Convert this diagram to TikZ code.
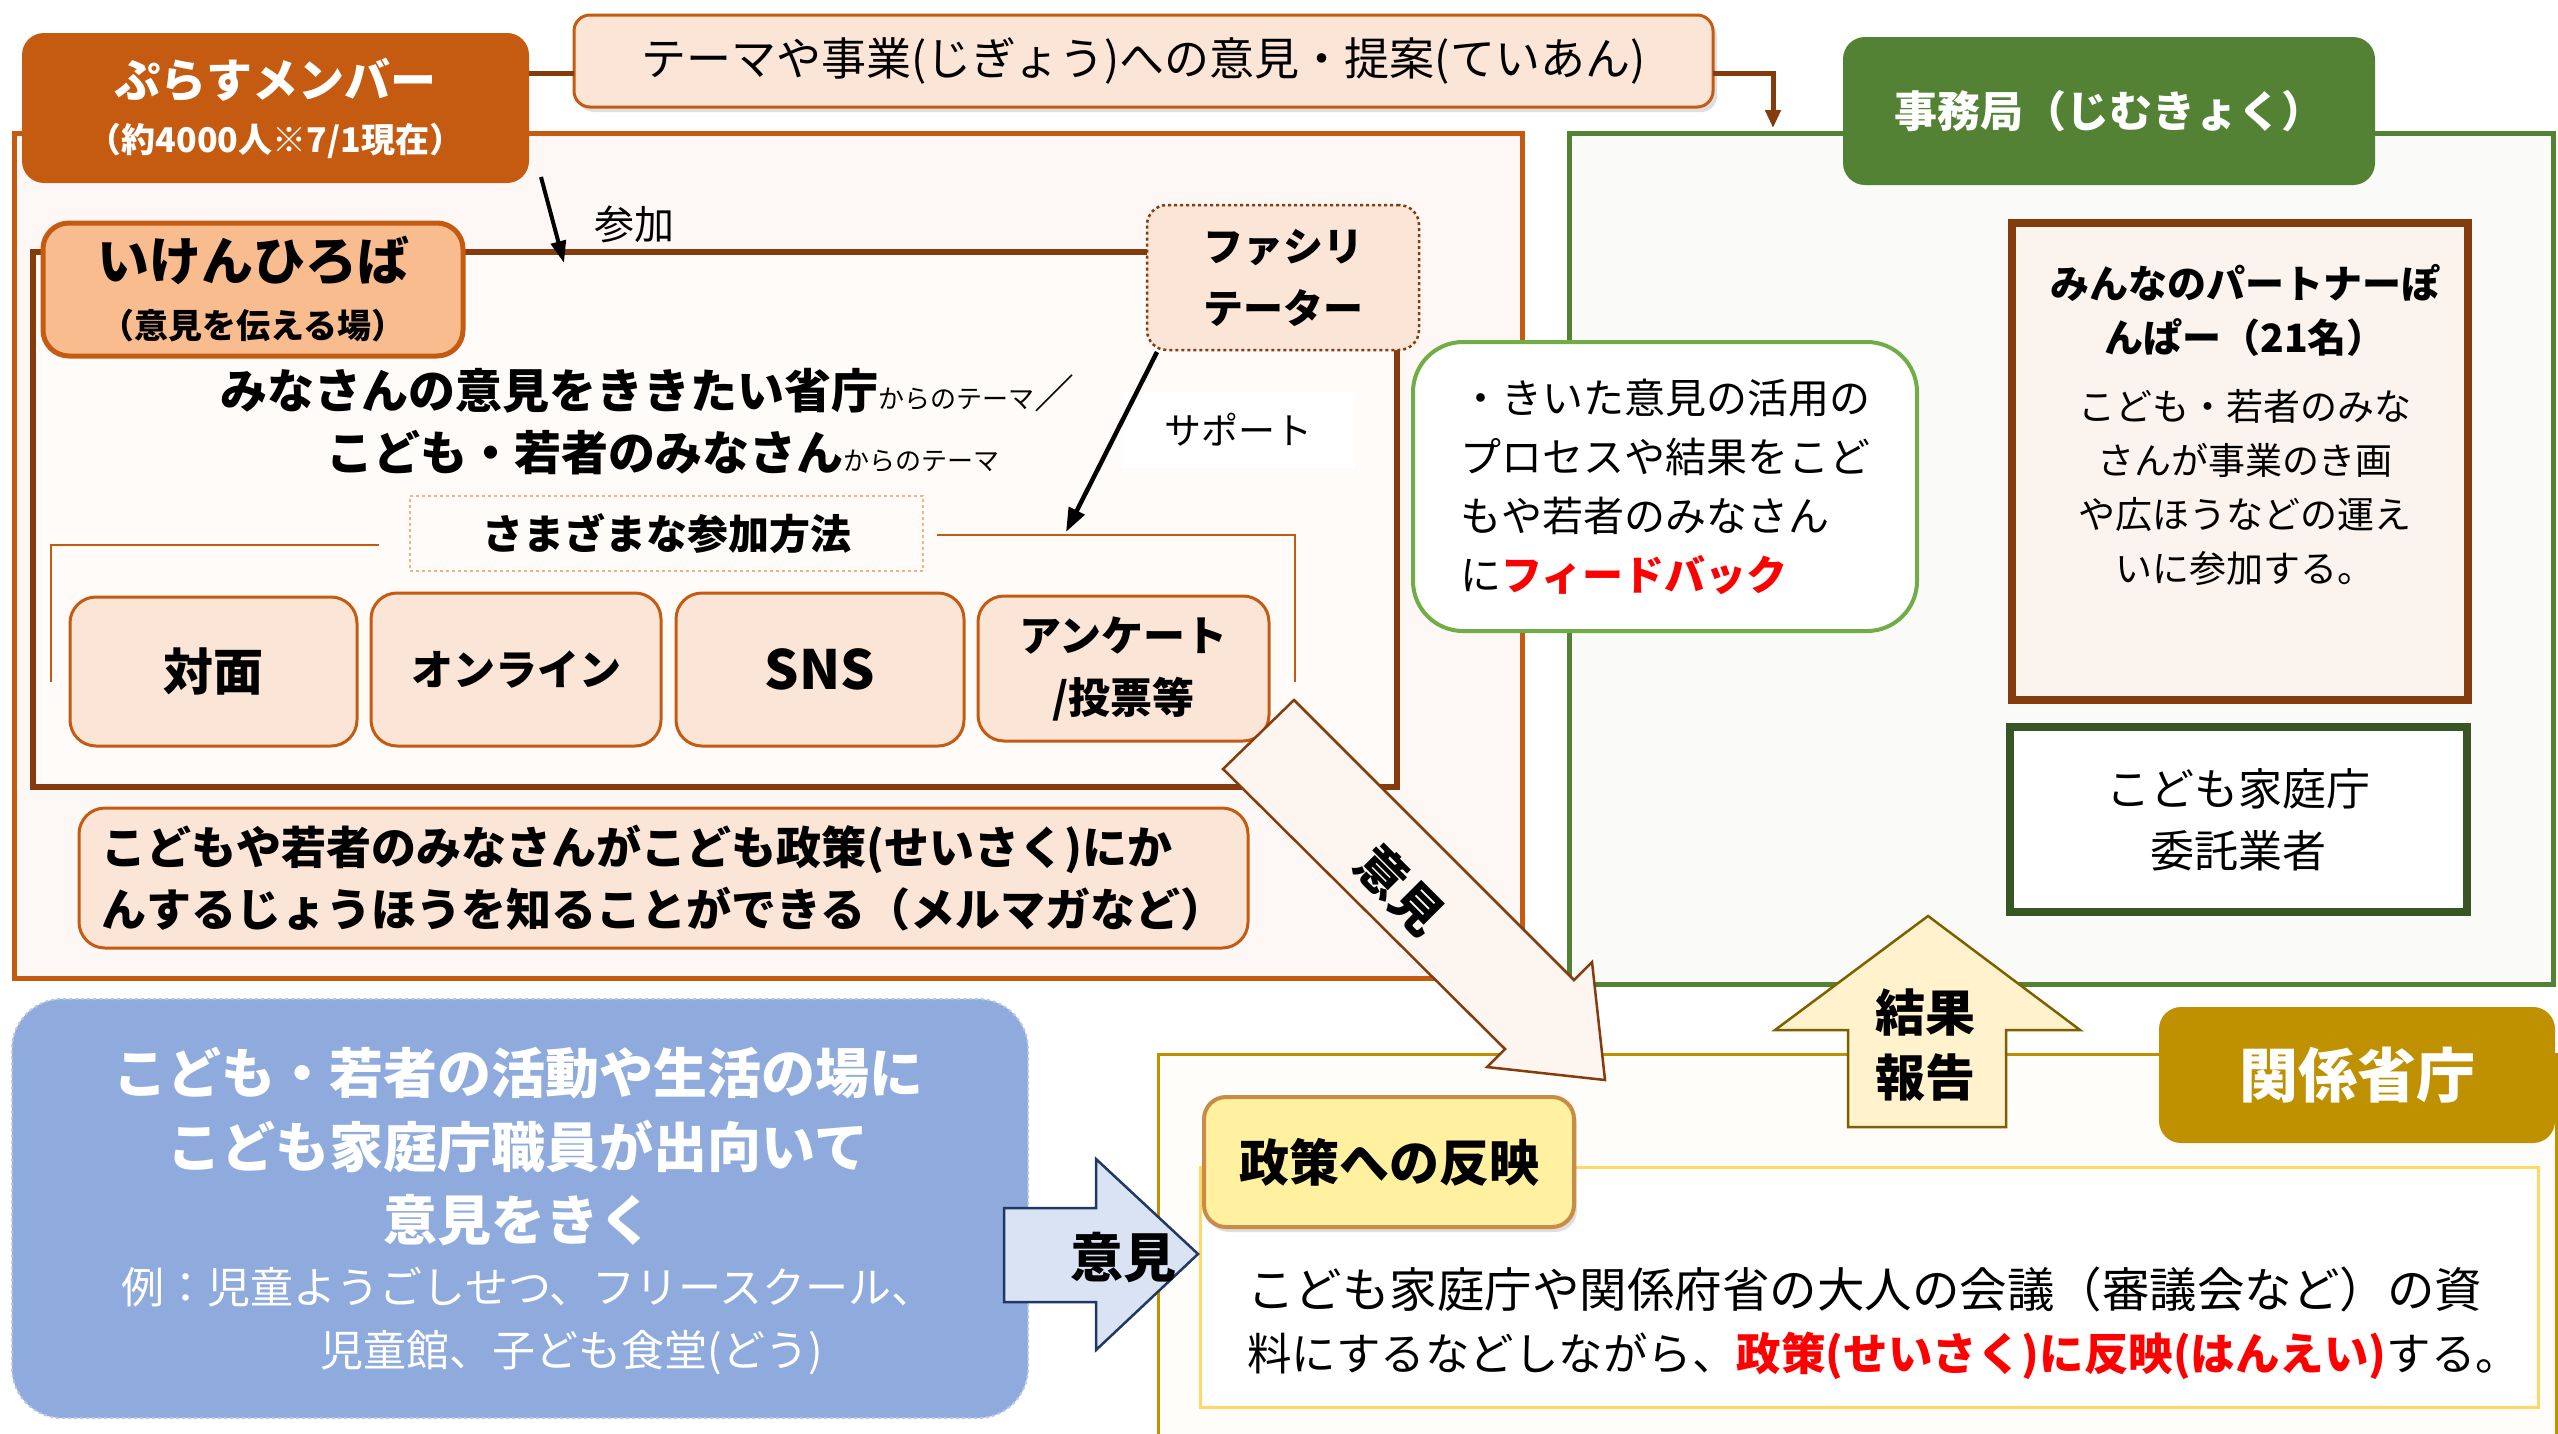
\documentclass[tikz,border=0pt]{standalone}
\usepackage{fontspec}
\setmainfont{Noto Sans CJK JP}
\usetikzlibrary{arrows.meta,shadows,calc}
\newcommand\fz[2]{\fontsize{#1}{#2}\selectfont}
\definecolor{orgD}{HTML}{C55A11}
\definecolor{brn}{HTML}{843C0C}
\definecolor{peach}{HTML}{FBE5D6}
\definecolor{peachM}{HTML}{F9BC8F}
\definecolor{dashO}{HTML}{F4B183}
\definecolor{grn}{HTML}{548235}
\definecolor{grnL}{HTML}{70AD47}
\definecolor{grnD}{HTML}{375623}
\definecolor{gold}{HTML}{BF9000}
\definecolor{goldL}{HTML}{FFD966}
\definecolor{cream}{HTML}{FFF2CC}
\definecolor{olive}{HTML}{7F6000}
\definecolor{blueB}{HTML}{8FAADC}
\definecolor{blueE}{HTML}{B4C7E7}
\definecolor{blueL}{HTML}{DAE3F3}
\definecolor{navy}{HTML}{203864}
\definecolor{outerF}{HTML}{FDF8F5}
\definecolor{innerF}{HTML}{FFFBF9}
\definecolor{greenF}{HTML}{FAFAF8}
\definecolor{yellF}{HTML}{FFFDF9}
\definecolor{partF}{HTML}{FBF3EE}
\definecolor{seiF}{HTML}{FFF1A0}
\definecolor{seiD}{HTML}{C98B45}
\definecolor{arrF}{HTML}{FDF5F0}
\definecolor{redT}{HTML}{FF0000}
\begin{document}
\begin{tikzpicture}[x=1pt,y=-1pt,
  every node/.style={inner sep=0pt,outer sep=0pt},
  framebox/.style={draw=#1,line width=5pt},
  method/.style={draw=orgD,line width=3pt,fill=peach,rounded corners=26pt,align=center},
  whitebox/.style={fill=#1,rounded corners=22pt,text=white,align=center},
  conn/.style={line width=4.5pt,-{Triangle[length=24pt,width=17pt]}},
  txt/.style={align=center}]
\useasboundingbox (0,0) rectangle (2558,1433);
\clip (0,0) rectangle (2558,1433);
\fill[white] (0,0) rectangle (2558,1433);

% frames
\node[framebox=orgD,fill=outerF,minimum width=1508pt,minimum height=845pt] (outer) at (768,555.5) {};
\node[framebox=grn,fill=greenF,minimum width=984pt,minimum height=851pt] (gframe) at (2061,558.5) {};
\node[draw=gold,line width=3pt,fill=yellF,minimum width=1398pt,minimum height=406pt] (yframe) at (1857,1257) {};
\node[framebox=brn,line width=6pt,fill=innerF,minimum width=1364pt,minimum height=535pt] (inner) at (715,519.5) {};

% top row
\node[draw=orgD,line width=3pt,fill=peach,rounded corners=16pt,minimum width=1139pt,minimum height=92pt,
  drop shadow={shadow xshift=4pt,shadow yshift=-5pt,opacity=0.25},font=\fz{45}{50}] (theme) at (1143.5,61)
  {テーマや事業(じぎょう)への意見・提案(ていあん)};
\node[whitebox=orgD,minimum width=507pt,minimum height=150pt,font=\fz{46}{55}\bfseries] (plus) at (275.5,108)
  {ぷらすメンバー\\{\fz{34}{55}（約4000人※7/1現在）}};
\node[whitebox=grn,minimum width=532pt,minimum height=148pt,font=\fz{43}{50}\bfseries] (jimu) at (2109,111)
  {事務局（じむきょく）};
\coordinate (cA) at (0,73);
\coordinate (jimuIn) at (1773,128);
\draw[brn,line width=5pt] (plus.east |- cA) -- (theme.west |- cA);
\draw[brn,line width=5pt,-{Triangle[length=18pt,width=15pt]}] (theme.east |- cA) -| (jimuIn);

% iken hiroba
\node[draw=orgD,line width=5pt,fill=peachM,rounded corners=26pt,minimum width=420pt,minimum height=133pt,
  align=center,font=\fz{52}{58}\bfseries] (hiroba) at (253,289.5)
  {いけんひろば\\{\fz{34}{58}（意見を伝える場）}};
\node[draw=brn,dashed,line width=2.5pt,fill=peach,rounded corners=20pt,minimum width=272pt,minimum height=145pt,
  align=center,font=\fz{40}{62}\bfseries] (facil) at (1283,277.5) {ファシリ\\テーター};

\coordinate (sankaS) at (541,177);
\coordinate (sankaE) at (564,263);
\draw[conn,line width=4pt,-{Triangle[length=22pt,width=15pt]}] (sankaS) -- (sankaE);
\node[font=\fz{40}{44}] (sanka) at (634,224) {参加};

\node[anchor=west,font=\fz{47}{50}\bfseries] (thA) at (220,391)
  {みなさんの意見をききたい省庁{\mdseries\fz{26}{50}からのテーマ}{\mdseries\fz{40}{50}／}};
\node[anchor=west,font=\fz{47}{50}\bfseries] (thB) at (326,453)
  {こども・若者のみなさん{\mdseries\fz{26}{50}からのテーマ}};

\node[fill=white,minimum width=234pt,minimum height=76pt,font=\fz{37}{40}] (support) at (1238,430) {サポート};
\coordinate (supS) at ($(facil.south west)+(10,2)$);
\coordinate (supE) at (1066,532);
\draw[conn] (supS) -- (supE);

\node[draw=dashO,dashed,line width=2.5pt,fill=innerF,minimum width=513pt,minimum height=75pt,
  font=\fz{41}{45}\bfseries] (methods) at (666.5,533.5) {さまざまな参加方法};
\draw[orgD,line width=2pt] (379,545) -- (51,545) -- (51,682);
\draw[orgD,line width=2pt] (937,535) -- (1295,535) -- (1295,682);

\node[method,minimum width=287pt,minimum height=149pt,font=\fz{50}{60}\bfseries] (taimen) at (213.5,671.5) {対面};
\node[method,minimum width=290pt,minimum height=153pt,font=\fz{42}{60}\bfseries] (online) at (516,669.5) {オンライン};
\node[method,minimum width=288pt,minimum height=153pt,font=\fz{54}{60}\bfseries] (sns) at (820,669.5) {SNS};
\node[method,minimum width=291pt,minimum height=145pt,font=\fz{42}{62}\bfseries] (survey) at (1123.5,668.5) {アンケート\\/投票等};

\node[method,align=left,minimum width=1169pt,minimum height=140pt,font=\fz{45}{62}\bfseries] (melmaga) at (663.5,878)
  {こどもや若者のみなさんがこども政策(せいさく)にか\\んするじょうほうを知ることができる（メルマガなど）};

% secretariat area
\node[draw=grnL,line width=4pt,fill=white,rounded corners=50pt,minimum width=504pt,minimum height=289pt,
  align=left,font=\fz{41}{59}] (feedback) at (1665,486.5)
  {・きいた意見の活用の\\プロセスや結果をこど\\もや若者のみなさん\\に{\color{redT}\bfseries フィードバック}};
\node[draw=brn,line width=8pt,fill=partF,minimum width=456pt,minimum height=477pt] (partner) at (2240,461.5) {};
\node[txt,font=\fz{37}{54}] (partnerTxt) at (2245,425)
  {{\bfseries\fz{39}{54}みんなのパートナーぽ}\\{\bfseries\fz{39}{54}んぱー（21名）}\\[14pt]こども・若者のみな\\さんが事業のき画\\や広ほうなどの運え\\いに参加する。};
\node[draw=grnD,line width=8pt,fill=white,minimum width=457pt,minimum height=185pt,align=center,
  font=\fz{44}{62}] (itaku) at (2238.5,819.5) {こども家庭庁\\委託業者};

% ministries area
\node[whitebox=gold,minimum width=396pt,minimum height=136pt,font=\fz{59}{62}\bfseries] (kankei) at (2357,1075) {関係省庁};
\node[draw=goldL,line width=3pt,fill=white,minimum width=1338pt,minimum height=240pt] (resbox) at (1869,1287) {};
\node[anchor=west,align=left,font=\fz{46}{63}] (resTxt) at (1247,1323.5)
  {{\fz{47.5}{63}こども家庭庁や関係府省の大人の会議（審議会など）の資}\\{\fz{44.5}{63}料にするなどしながら、{\color{redT}\bfseries 政策(せいさく)に反映(はんえい)}する。}};
\node[draw=seiD,line width=4pt,fill=seiF,rounded corners=22pt,minimum width=370pt,minimum height=130pt,
  drop shadow={shadow xshift=3pt,shadow yshift=-5pt,opacity=0.25},font=\fz{50}{55}\bfseries] (seisaku) at (1389,1162) {政策への反映};

% up arrow
\draw[draw=olive,line width=2.5pt,fill=cream,line join=miter]
  (1928,916) -- (2080,1030) -- (2006,1030) -- (2006,1127) -- (1848,1127) -- (1848,1030) -- (1775,1030) -- cycle;
\node[txt,font=\fz{50}{65}\bfseries] (kekka) at (1925,1045) {結果\\報告};

% blue box
\node[draw=blueE,dashed,line width=2pt,fill=blueB,rounded corners=50pt,minimum width=1016pt,minimum height=419pt] (field) at (520,1208.5) {};
\node[txt,text=white,font=\fz{54}{73.5}\bfseries] (fieldTxt) at (518,1147)
  {こども・若者の活動や生活の場に\\こども家庭庁職員が出向いて\\意見をきく};
\node[text=white,font=\fz{43}{50}] (ex1) at (528,1287) {例：児童ようごしせつ、フリースクール、};
\node[text=white,font=\fz{43}{50}] (ex2) at (572,1353) {児童館、子ども食堂(どう)};

% blue arrow
\draw[draw=navy,line width=2.5pt,fill=blueL,line join=miter]
  (1004,1208) -- (1096,1208) -- (1096,1159) -- (1198,1254) -- (1096,1350) -- (1096,1302) -- (1004,1302) -- cycle;
\node[font=\fz{53}{55}\bfseries] (ikenB) at (1123,1257) {意見};

% diagonal arrow
\draw[draw=brn,line width=2.5pt,fill=arrF,line join=miter]
  (1294,700) -- (1574,980) -- (1592,962) -- (1605,1080) -- (1487,1067) -- (1505,1049) -- (1223,769) -- cycle;
\node[rotate=-45,font=\fz{50}{55}\bfseries] (ikenD) at (1400,890) {意見};
\end{tikzpicture}
\end{document}
